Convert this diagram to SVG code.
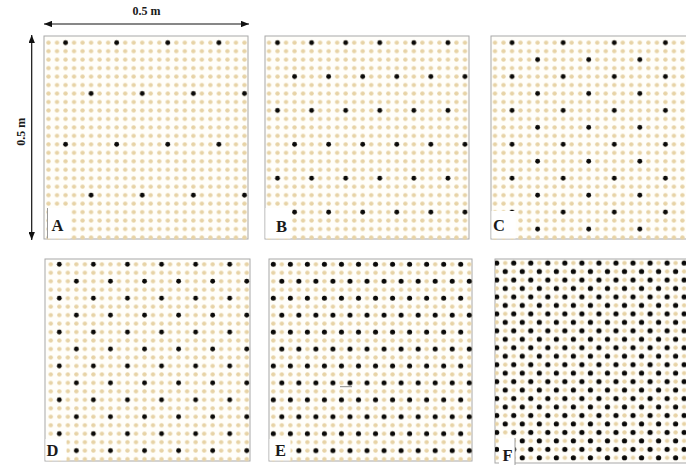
<svg xmlns="http://www.w3.org/2000/svg" width="686" height="465" viewBox="0 0 686 465">
<style>
.panel{fill:#fffefa;stroke:#a8a8a8;stroke-width:1}
.lbl{font-family:"Liberation Serif",serif;font-weight:bold;font-size:16.5px;fill:#1a1a1a}
.dim{font-family:"Liberation Serif",serif;font-weight:bold;font-size:12px;fill:#1a1a1a}
.lbox{fill:#ffffff;stroke:none}
.lline{stroke:#9a9a9a;stroke-width:1}
.arr{stroke:#111;stroke-width:1.2;fill:none}
</style>
<defs>
<marker id="ah" viewBox="0 0 10 8" refX="10" refY="4" markerWidth="8" markerHeight="6.4" markerUnits="userSpaceOnUse" orient="auto-start-reverse">
<path d="M0,0 L10,4 L0,8 Z" fill="#111"/>
</marker>
<pattern id="beige" patternUnits="userSpaceOnUse" x="-4.26" y="-4.235" width="8.52" height="8.47">
<circle cx="4.26" cy="4.235" r="2.2" fill="#e7d3a6"/>
</pattern>
<pattern id="blkA" patternUnits="userSpaceOnUse" x="-4.26" y="-4.235" width="51.12" height="101.64">
<circle cx="21.3" cy="4.235" r="2.4" fill="#0a0a0a"/>
<circle cx="46.86" cy="55.055" r="2.4" fill="#0a0a0a"/>
</pattern>
<pattern id="blkB" patternUnits="userSpaceOnUse" x="-4.26" y="-4.235" width="34.08" height="67.76">
<circle cx="12.78" cy="4.235" r="2.4" fill="#0a0a0a"/>
<circle cx="29.82" cy="38.115" r="2.4" fill="#0a0a0a"/>
</pattern>
<pattern id="blkC" patternUnits="userSpaceOnUse" x="-4.26" y="-4.235" width="51.12" height="33.88">
<circle cx="21.3" cy="4.235" r="2.4" fill="#0a0a0a"/>
<circle cx="46.86" cy="21.175" r="2.4" fill="#0a0a0a"/>
</pattern>
<pattern id="blkD" patternUnits="userSpaceOnUse" x="-4.26" y="-4.235" width="34.08" height="33.88">
<circle cx="12.78" cy="4.235" r="2.4" fill="#0a0a0a"/>
<circle cx="29.82" cy="21.175" r="2.4" fill="#0a0a0a"/>
</pattern>
<pattern id="blkE" patternUnits="userSpaceOnUse" x="-4.26" y="-4.235" width="17.04" height="33.88">
<circle cx="4.26" cy="4.235" r="2.5" fill="#0a0a0a"/>
<circle cx="12.78" cy="21.175" r="2.5" fill="#0a0a0a"/>
</pattern>
<pattern id="blkF" patternUnits="userSpaceOnUse" x="-4.26" y="-4.235" width="17.04" height="16.94">
<circle cx="4.26" cy="4.235" r="2.6" fill="#0a0a0a"/>
<circle cx="12.78" cy="12.705" r="2.6" fill="#0a0a0a"/>
</pattern>
</defs>

<g id="dimensions">
<line class="arr" x1="44" y1="24" x2="249" y2="24" marker-start="url(#ah)" marker-end="url(#ah)"/>
<text class="dim" x="146.5" y="15" text-anchor="middle">0.5 m</text>
<line class="arr" x1="31.7" y1="35" x2="31.7" y2="240" marker-start="url(#ah)" marker-end="url(#ah)"/>
<text class="dim" transform="translate(21,131.7) rotate(-90)" x="0" y="4" text-anchor="middle">0.5 m</text>
</g>

<g id="panelA">
<rect class="panel" x="44" y="36" width="204" height="203"/>
<g transform="translate(48.5,42.7)">
<rect x="-4.26" y="-4.235" width="204.48" height="203.28" fill="url(#beige)"/>
<rect x="-4.26" y="-4.235" width="204.48" height="203.28" fill="url(#blkA)"/>
</g>
<rect class="lbox" x="47.5" y="208" width="23" height="30.5"/>
<line class="lline" x1="47.5" y1="208" x2="47.5" y2="238.5"/>
<text class="lbl" x="51.5" y="231">A</text>
</g>

<g id="panelB">
<rect class="panel" x="265" y="36" width="204" height="203"/>
<g transform="translate(269,42.7)">
<rect x="-4.26" y="-4.235" width="204.48" height="203.28" fill="url(#beige)"/>
<rect x="-4.26" y="-4.235" width="204.48" height="203.28" fill="url(#blkB)"/>
</g>
<rect class="lbox" x="265.5" y="208" width="25" height="30.5"/>
<text class="lbl" x="276" y="231.5">B</text>
</g>

<g id="panelC">
<rect class="panel" x="491" y="36" width="204" height="203"/>
<g transform="translate(495,42.7)">
<rect x="-4.26" y="-4.235" width="204.48" height="203.28" fill="url(#beige)"/>
<rect x="-4.26" y="-4.235" width="204.48" height="203.28" fill="url(#blkC)"/>
</g>
<rect class="lbox" x="491.5" y="211" width="24" height="27.5"/>
<text class="lbl" x="493" y="230.5">C</text>
</g>

<g id="panelD">
<rect class="panel" x="45" y="259" width="205" height="202"/>
<g transform="translate(50.8,264.3)">
<rect x="-4.26" y="-4.235" width="204.48" height="203.28" fill="url(#beige)"/>
<rect x="-4.26" y="-4.235" width="204.48" height="203.28" fill="url(#blkD)"/>
</g>
<rect class="lbox" x="45.5" y="439" width="21" height="21.5"/>
<text class="lbl" x="46.5" y="455.5">D</text>
</g>

<g id="panelE">
<rect class="panel" x="269" y="259" width="203" height="202"/>
<g transform="translate(273.3,264.3)">
<rect x="-4.26" y="-4.235" width="204.48" height="203.28" fill="url(#beige)"/>
<rect x="-4.26" y="-4.235" width="204.48" height="203.28" fill="url(#blkE)"/>
</g>
<rect class="lbox" x="269.5" y="439" width="21" height="21.5"/>
<text class="lbl" x="275" y="455.5">E</text>
<line x1="340" y1="386.7" x2="352" y2="386.7" stroke="#8a8a8a" stroke-width="1"/>
</g>

<g id="panelF">
<rect class="panel" x="495" y="259" width="210" height="204"/>
<g transform="translate(496.7,263)">
<rect x="-1.7" y="-4.235" width="200" height="203.28" fill="url(#beige)"/>
<rect x="-1.7" y="-4.235" width="200" height="203.28" fill="url(#blkF)"/>
</g>
<rect class="lbox" x="499" y="438" width="16" height="27"/>
<line class="lline" x1="515" y1="438" x2="515" y2="465"/>
<text class="lbl" x="502.5" y="460.5">F</text>
</g>
</svg>
